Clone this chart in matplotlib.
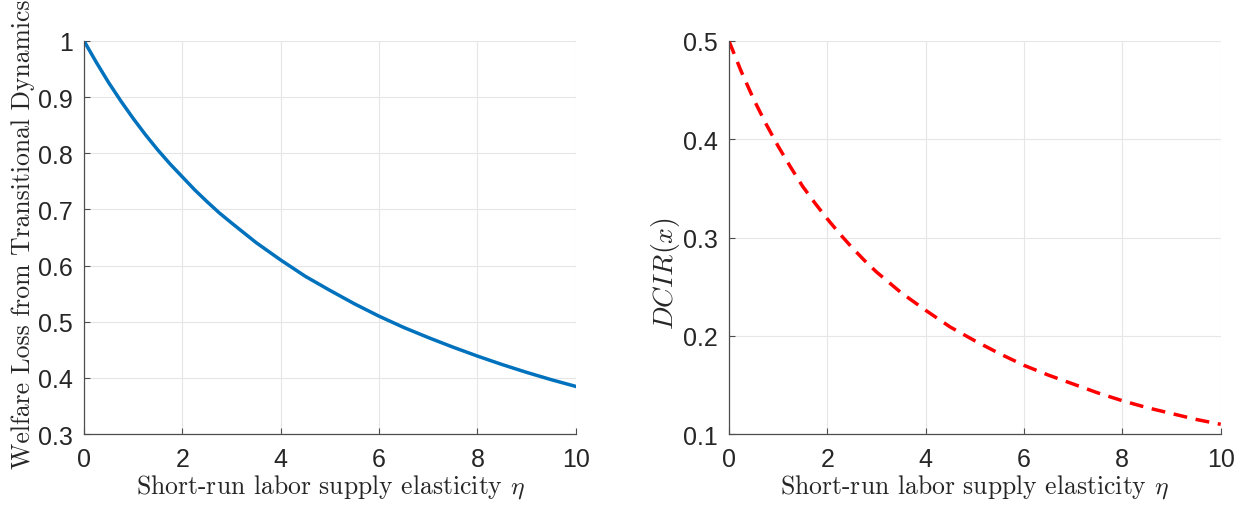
import matplotlib
matplotlib.use("Agg")
import matplotlib.pyplot as plt

plt.rcParams['mathtext.fontset'] = 'cm'
plt.rcParams['font.family'] = ['Liberation Sans', 'DejaVu Sans']

eta = [0, 0.25, 0.5, 0.75, 1, 1.25, 1.5, 1.75, 2, 2.25, 2.5, 2.75, 3, 3.5, 4, 4.5, 5,
       5.5, 6, 6.5, 7, 7.5, 8, 8.5, 9, 9.5, 10]
welfare_loss = [1.000, 0.962, 0.926, 0.893, 0.862, 0.833, 0.806, 0.781, 0.758, 0.735,
                0.714, 0.694, 0.676, 0.641, 0.610, 0.581, 0.556, 0.532, 0.510, 0.490,
                0.472, 0.455, 0.439, 0.424, 0.410, 0.397, 0.385]
dcir = [0.500, 0.469, 0.441, 0.416, 0.393, 0.372, 0.352, 0.335, 0.319, 0.304, 0.290,
        0.277, 0.265, 0.244, 0.226, 0.209, 0.195, 0.182, 0.170, 0.160, 0.151, 0.142,
        0.134, 0.127, 0.121, 0.115, 0.110]

xticks = [0, 2, 4, 6, 8, 10]
xlabel = r"Short-run labor supply elasticity $\eta$"

fig = plt.figure(figsize=(12.45, 5.06), dpi=100)
ax1 = fig.add_axes([0.0675, 0.140, 0.395, 0.777])
ax2 = fig.add_axes([0.5855, 0.140, 0.395, 0.777])


def style(ax, yticks):
    ax.set_xlim(0, 10)
    ax.set_ylim(yticks[0], yticks[-1])
    ax.set_xticks(xticks)
    ax.set_yticks(yticks)
    ax.set_yticklabels([("%g" % t) for t in yticks])
    ax.grid(True, color='#e6e6e6', linewidth=0.8)
    ax.set_axisbelow(True)
    for s in ['top', 'right']:
        ax.spines[s].set_visible(False)
    for s in ['left', 'bottom']:
        ax.spines[s].set_color('#4d4d4d')
        ax.spines[s].set_linewidth(0.9)
    ax.tick_params(direction='in', length=4, color='#4d4d4d', labelsize=18,
                   labelcolor='#262626')
    ax.tick_params(axis='x', pad=9)
    ax.tick_params(axis='y', pad=8)
    ax.set_xlabel(xlabel, fontfamily='cmr10', fontsize=18.5, color='#262626', labelpad=1)


ax1.plot(eta, welfare_loss, color='#0072BD', linewidth=2.5)
style(ax1, [0.3, 0.4, 0.5, 0.6, 0.7, 0.8, 0.9, 1.0])
ax1.set_ylabel("Welfare Loss from Transitional Dynamics", fontfamily='cmr10',
               fontsize=18.5, color='#262626')
ax1.yaxis.set_label_coords(-0.1, 0.51)

ax2.plot(eta, dcir, color='red', linestyle=(0, (4, 2.5)), linewidth=2.5)
style(ax2, [0.1, 0.2, 0.3, 0.4, 0.5])
ax2.set_ylabel(r"$DCIR(x)$", fontsize=20, color='#262626')
ax2.yaxis.set_label_coords(-0.095, 0.41)

fig.savefig("out.png", dpi=100)
